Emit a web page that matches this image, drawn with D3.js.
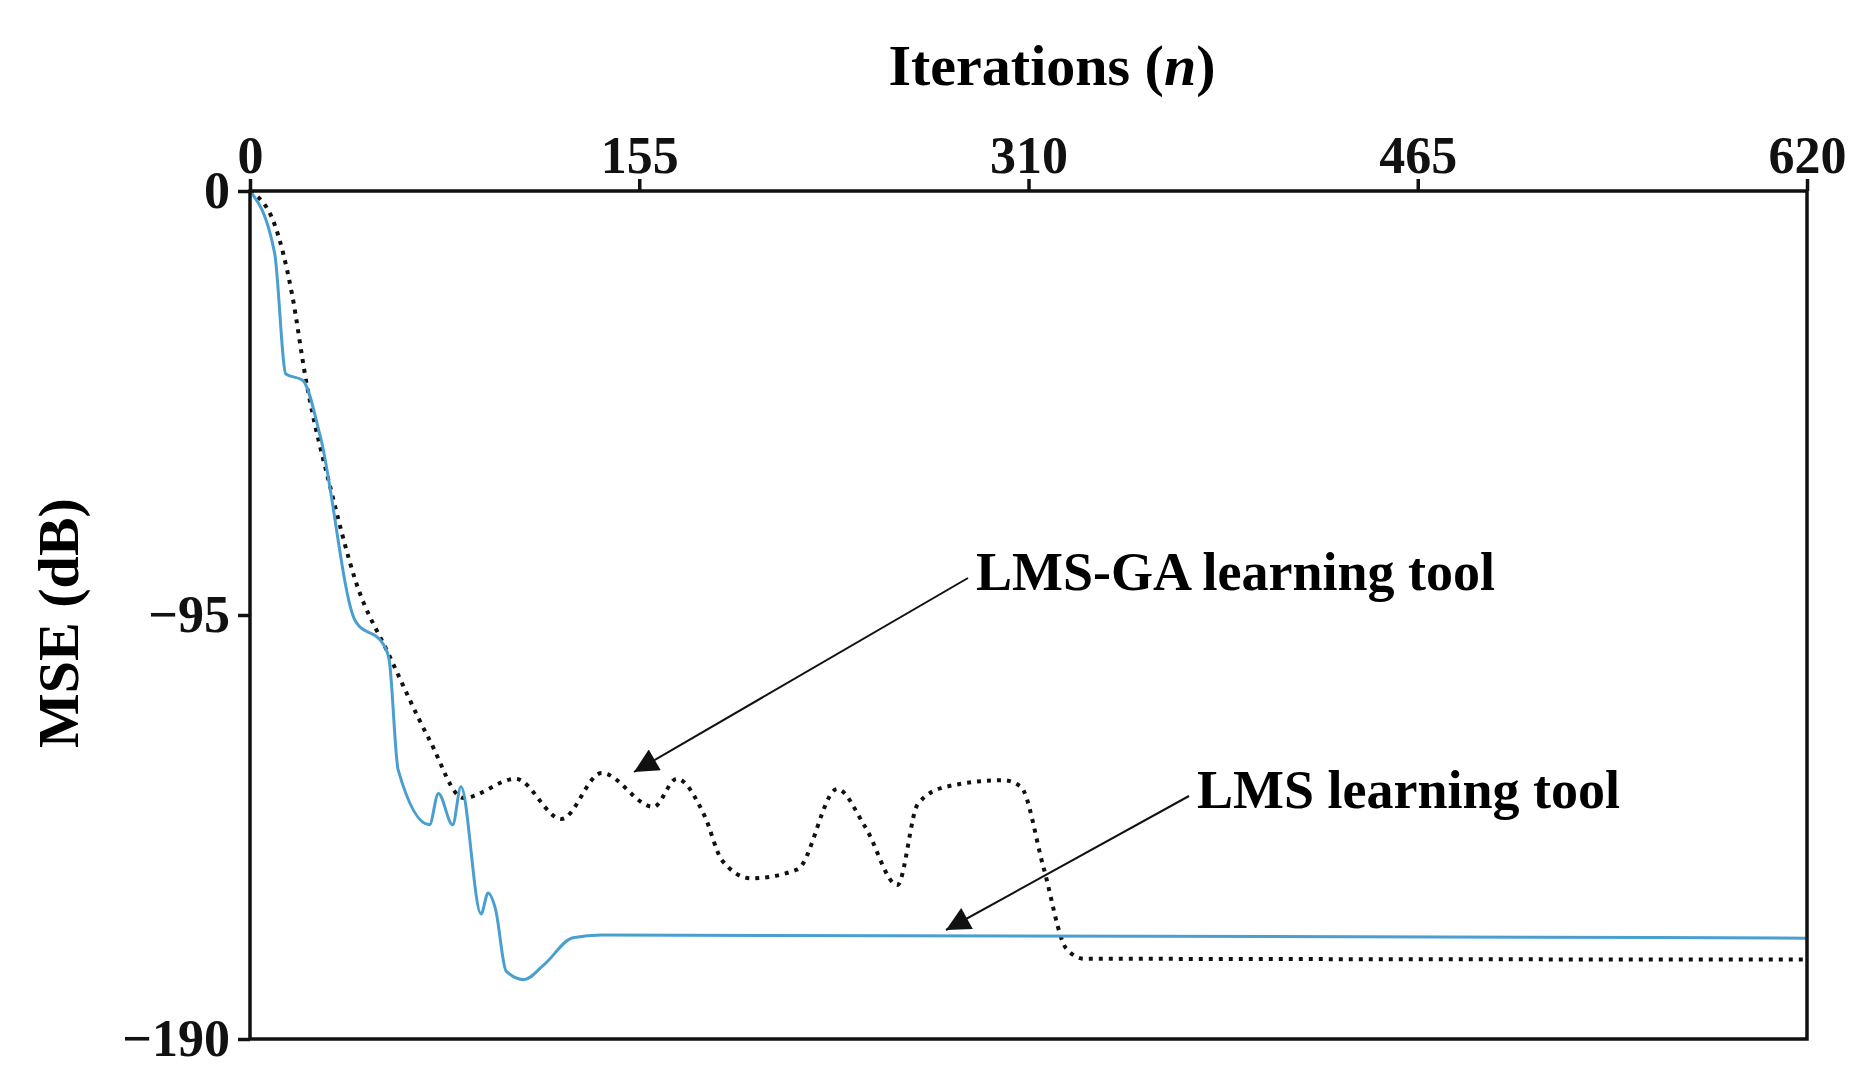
<!DOCTYPE html>
<html><head><meta charset="utf-8">
<script src="https://cdn.jsdelivr.net/npm/d3@7.9.0/dist/d3.min.js"></script>
<style>body{margin:0;background:#fff}svg{font-family:"Liberation Serif","Times New Roman",serif;font-weight:bold}</style>
</head><body><svg width="1862" height="1091"></svg>
<script>
// data
const xTicks = [0, 155, 310, 465, 620];
const yTicks = [0, -95, -190];
const lmsX = [0, 9.8, 14.3, 21, 28, 42, 53, 55.4, 59, 71.5, 75, 80.7, 84, 92, 94.8, 97.8, 102, 109, 117, 128.6, 140, 620];
const lmsY = [0, -13.9, -41, -42.4, -55, -96.4, -101.5, -105, -129.7, -142, -135, -142, -133.5, -162, -157.3, -161, -174.8, -176.7, -173.4, -167.3, -166.7, -167.4];
const gaX = [0, 9.8, 16.7, 22.3, 32.7, 42, 55.4, 71.5, 85, 105.8, 124, 140, 160.7, 169.9, 181, 188, 199.5, 218, 233.8, 245, 257.8, 265.9, 277, 300, 307, 316, 325, 332, 620];
const gaY = [0, -7.5, -23, -42.4, -68, -87.3, -104, -123, -136, -131.7, -140.7, -130.4, -138, -131.7, -140, -150, -154, -152, -134, -142.5, -155.5, -137.4, -133.5, -132, -133.5, -151.6, -169.7, -172, -172.2];

const svg = d3.select('svg');
const x = d3.scaleLinear().domain([0, 620]).range([250, 1807]);
const y = d3.scaleLinear().domain([0, -190]).range([191, 1039]);

const line = d3.line().x(d => x(d[0])).y(d => y(d[1])).curve(d3.curveMonotoneX);

svg.append('path').datum(gaX.map((v, i) => [v, gaY[i]]))
  .attr('d', line).attr('fill', 'none').attr('stroke', '#111')
  .attr('stroke-width', 4).attr('stroke-dasharray', '4 6');
svg.append('path').datum(lmsX.map((v, i) => [v, lmsY[i]]))
  .attr('d', line).attr('fill', 'none').attr('stroke', '#4a9fd0')
  .attr('stroke-width', 3);

// frame
svg.append('rect').attr('x', 250).attr('y', 191).attr('width', 1557).attr('height', 848)
  .attr('fill', 'none').attr('stroke', '#111').attr('stroke-width', 3.5);

const topAxis = svg.append('g').attr('transform', 'translate(0,191)')
  .call(d3.axisTop(x).tickValues(xTicks).tickSize(12).tickPadding(6));
const leftAxis = svg.append('g').attr('transform', 'translate(250,0)')
  .call(d3.axisLeft(y).tickValues(yTicks).tickSize(12).tickPadding(8));
[topAxis, leftAxis].forEach(g => {
  g.select('.domain').remove();
  g.selectAll('line').attr('stroke', '#111').attr('stroke-width', 3.5);
  g.selectAll('text').attr('fill', '#111').style('font-size', '52px')
    .style('font-family', '"Liberation Serif",serif').style('font-weight', 'bold');
});

svg.append('text').attr('x', 1052).attr('y', 85).attr('text-anchor', 'middle')
  .style('font-size', '58px').html('Iterations (<tspan font-style="italic">n</tspan>)');
svg.append('text').attr('transform', 'translate(78,623) rotate(-90)')
  .attr('text-anchor', 'middle').style('font-size', '58px').text('MSE (dB)');

svg.append('defs').append('marker').attr('id', 'ah').attr('viewBox', '0 0 10 10')
  .attr('refX', 10).attr('refY', 5).attr('markerWidth', 30).attr('markerHeight', 24)
  .attr('orient', 'auto').attr('markerUnits', 'userSpaceOnUse')
  .append('path').attr('d', 'M0,0L10,5L0,10z').attr('fill', '#111');

function note(txt, tx, ty, x1, y1, x2, y2) {
  svg.append('line').attr('x1', x1).attr('y1', y1).attr('x2', x2).attr('y2', y2)
    .attr('stroke', '#111').attr('stroke-width', 2).attr('marker-end', 'url(#ah)');
  svg.append('text').attr('x', tx).attr('y', ty).style('font-size', '54px').text(txt);
}
note('LMS-GA learning tool', 976, 590, 968, 578, 634, 772);
note('LMS learning tool', 1197, 808, 1189, 796, 946, 930);
</script></body></html>
